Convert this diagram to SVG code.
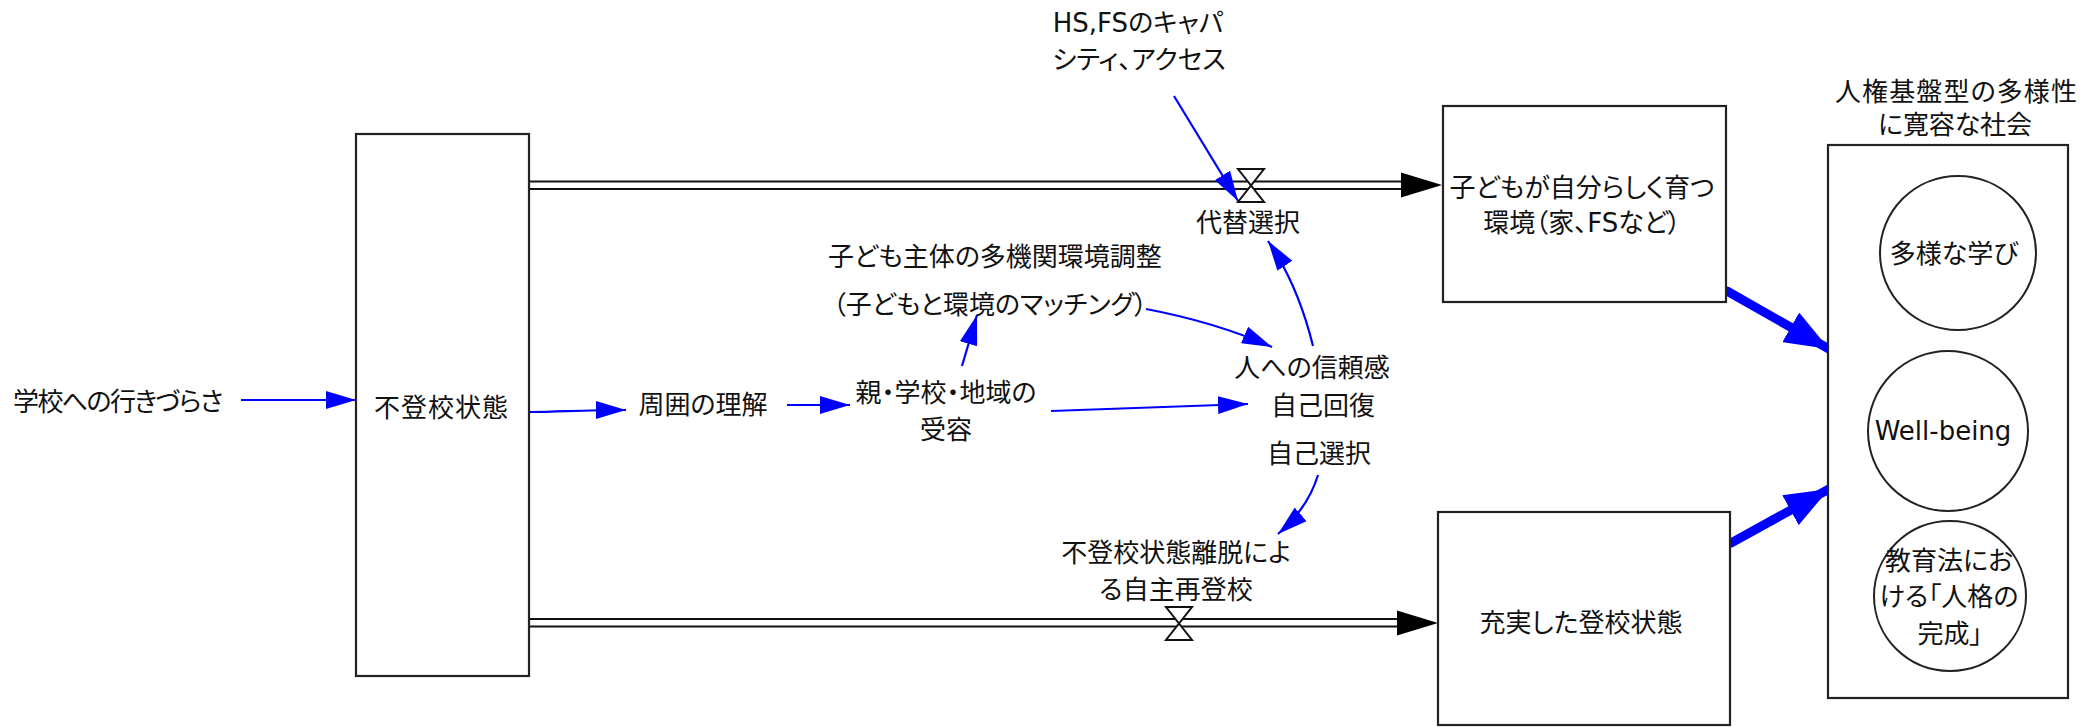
<svg xmlns="http://www.w3.org/2000/svg" width="2099" height="727" viewBox="0 0 2099 727">
<style>
.box{fill:#fff;stroke:#222;stroke-width:2.2}
.ell{fill:#fff;stroke:#222;stroke-width:2}
.t{font-family:"DejaVu Sans","Noto Sans CJK JP",sans-serif;font-size:26px;fill:#111;text-anchor:middle;dominant-baseline:central;font-feature-settings:"palt"}
.pipe{fill:none;stroke:#111;stroke-width:2.2}
.valve{fill:#fff;stroke:#111;stroke-width:2}
.link{fill:none;stroke:#0000ff;stroke-width:2.2}
.thick{fill:none;stroke:#0000ff;stroke-width:9;stroke-linecap:round}
</style>
<defs>
<marker id="ah" markerUnits="userSpaceOnUse" markerWidth="32" markerHeight="18" refX="30" refY="9" orient="auto">
<path d="M0,0 L30,9 L0,18 z" fill="#0000ff"/>
</marker>
<marker id="ahb" markerUnits="userSpaceOnUse" markerWidth="46" markerHeight="34" refX="44" refY="17" orient="auto">
<path d="M0,0 L44,17 L0,34 z" fill="#0000ff"/>
</marker>
</defs>
<rect width="2099" height="727" fill="#fff"/>

<g id="connectors">
<!-- flows -->
<path class="pipe" d="M529,181.5 H1410"/>
<path class="pipe" d="M529,189 H1410"/>
<path d="M1401,172.5 L1442,185 L1401,197.5 z" fill="#000"/>
<path class="pipe" d="M529,619 H1405"/>
<path class="pipe" d="M529,626.5 H1405"/>
<path d="M1397,610.5 L1438,623 L1397,635.5 z" fill="#000"/>
<!-- blue links -->
<path class="link" d="M241,400 L356,400" marker-end="url(#ah)"/>
<path class="link" d="M530,412 C560,412 580,410 626,410" marker-end="url(#ah)"/>
<path class="link" d="M787,405 L850,405" marker-end="url(#ah)"/>
<path class="link" d="M1051,411 L1248,404" marker-end="url(#ah)"/>
<path class="link" d="M962,366 L977,315" marker-end="url(#ah)"/>
<path class="link" d="M1146,309 Q1215,322 1272,347" marker-end="url(#ah)"/>
<path class="link" d="M1313,346 Q1298,285 1268,241" marker-end="url(#ah)"/>
<path class="link" d="M1174,96 L1238,201" marker-end="url(#ah)"/>
<path class="link" d="M1318,475 Q1308,508 1278,534" marker-end="url(#ah)"/>
<path class="thick" d="M1727,291 L1829,349" marker-end="url(#ahb)"/>
<path class="thick" d="M1731,543 L1829,489" marker-end="url(#ahb)"/>
</g>

<g id="valve-top">
<path class="valve" d="M1238,169 H1264 L1238,202 H1264 Z"/>
</g>
<g id="valve-bottom">
<path class="valve" d="M1166,607 H1192 L1166,640 H1192 Z"/>
</g>

<g id="n-ikizurasa"><text class="t" x="118" y="402" textLength="210">学校への行きづらさ</text></g>
<g id="n-futoko">
<rect class="box" x="356" y="134" width="173" height="542"/>
<text class="t" x="441" y="408" textLength="134">不登校状態</text>
</g>
<g id="n-shui"><text class="t" x="703" y="405">周囲の理解</text></g>
<g id="n-juyo">
<text class="t" x="946" y="393">親・学校・地域の</text>
<text class="t" x="946" y="430">受容</text>
</g>
<g id="n-chosei">
<text class="t" x="995" y="257">子ども主体の多機関環境調整</text>
<text class="t" x="990" y="305">（子どもと環境のマッチング）</text>
</g>
<g id="n-shinrai">
<text class="t" x="1312" y="368">人への信頼感</text>
<text class="t" x="1323" y="406">自己回復</text>
<text class="t" x="1319" y="454">自己選択</text>
</g>
<g id="n-daitai"><text class="t" x="1248" y="223">代替選択</text></g>
<g id="n-capacity">
<text class="t" x="1138" y="23">HS,FSのキャパ</text>
<text class="t" x="1139" y="60">シティ、アクセス</text>
</g>
<g id="n-ridatsu">
<text class="t" x="1176" y="553">不登校状態離脱によ</text>
<text class="t" x="1176" y="590">る自主再登校</text>
</g>
<g id="n-kankyo">
<rect class="box" x="1443" y="106" width="283" height="196"/>
<text class="t" x="1582" y="188">子どもが自分らしく育つ</text>
<text class="t" x="1582" y="223">環境（家、FSなど）</text>
</g>
<g id="n-toko">
<rect class="box" x="1438" y="512" width="292" height="213"/>
<text class="t" x="1581" y="623">充実した登校状態</text>
</g>
<g id="n-shakai">
<text class="t" x="1956" y="92" textLength="242">人権基盤型の多様性</text>
<text class="t" x="1955" y="125" textLength="154">に寛容な社会</text>
<rect class="box" x="1828" y="145" width="240" height="553"/>
</g>
<g id="n-manabi">
<ellipse class="ell" cx="1958" cy="253" rx="78" ry="77"/>
<text class="t" x="1954" y="254">多様な学び</text>
</g>
<g id="n-wellbeing">
<ellipse class="ell" cx="1948" cy="431" rx="80" ry="80"/>
<text class="t" x="1943" y="431">Well-being</text>
</g>
<g id="n-jinkaku">
<ellipse class="ell" cx="1950" cy="596" rx="76" ry="75"/>
<text class="t" x="1949" y="561">教育法にお</text>
<text class="t" x="1949" y="597">ける「人格の</text>
<text class="t" x="1950" y="634">完成」</text>
</g>
</svg>
